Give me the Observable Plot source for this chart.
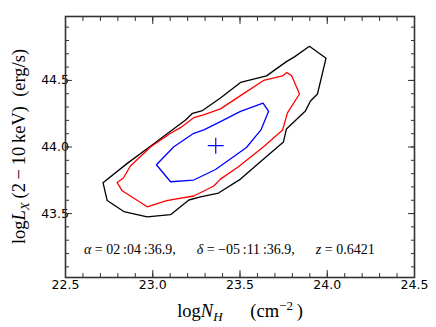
<!DOCTYPE html>
<html><head><meta charset="utf-8">
<script src="https://cdn.jsdelivr.net/npm/d3@7"></script>
<script src="https://cdn.jsdelivr.net/npm/@observablehq/plot@0.6"></script>
<style>body{margin:0;background:#fff;}</style>
</head><body><div id="chart"></div>
<script>
// confidence contours
const blackNH = [22.715,22.854,23.004,23.188,23.228,23.285,23.388,23.503,23.652,23.766,23.812,23.898,23.993,23.944,23.904,23.875,23.766,23.749,23.617,23.503,23.377,23.274,23.207,23.102,22.968,22.834,22.739,22.715];
const blackLX = [43.732,43.877,44.023,44.203,44.253,44.274,44.368,44.485,44.534,44.641,44.677,44.756,44.667,44.398,44.346,44.271,44.135,44.038,43.889,43.759,43.654,43.626,43.602,43.492,43.476,43.515,43.598,43.732];
const redNH = [22.796,22.832,22.872,22.987,23.102,23.159,23.235,23.291,23.388,23.503,23.635,23.744,23.768,23.797,23.841,23.772,23.744,23.635,23.491,23.388,23.350,23.235,23.079,22.968,22.825,22.796];
const redLX = [43.733,43.767,43.857,44.000,44.103,44.145,44.220,44.241,44.286,44.386,44.500,44.534,44.559,44.534,44.398,44.256,44.128,44.002,43.852,43.759,43.707,43.632,43.598,43.551,43.671,43.733];
const blueNH = [23.021,23.121,23.235,23.293,23.388,23.503,23.632,23.664,23.620,23.537,23.360,23.235,23.102,23.021];
const blueLX = [43.867,44.002,44.103,44.128,44.190,44.267,44.329,44.268,44.128,43.996,43.831,43.752,43.739,43.867];
const bestNH = [23.361];
const bestLX = [44.010];

const xMajor = [22.5, 23.0, 23.5, 24.0, 24.5];
const yMajor = [43.5, 44.0, 44.5];
const xMinor = d3.range(22.6, 24.45, 0.1);
const yMinor = d3.range(43.1, 44.95, 0.1);

const rows = (xs, ys) => xs.map((x, i) => ({nh: x, lx: ys[i]}));
const best = rows(bestNH, bestLX);

const plusSymbol = {
  draw(ctx, size) {
    const r = 8;
    ctx.moveTo(-r, 0); ctx.lineTo(r, 0);
    ctx.moveTo(0, -r); ctx.lineTo(0, r);
  }
};

const axisColor = "#333";
const fmt = d => d.toFixed(1);

const chart = Plot.plot({
  width: 436, height: 327,
  marginLeft: 65, marginRight: 22, marginTop: 16, marginBottom: 50,
  x: {domain: [22.5, 24.5], label: null},
  y: {domain: [43.02, 44.98], label: null},
  style: {fontFamily: "DejaVu Sans", fontSize: "12.5px", color: "#000", background: "#fff"},
  marks: [
    Plot.line(rows(blackNH, blackLX), {x: "nh", y: "lx", stroke: "#000", strokeWidth: 1.3}),
    Plot.line(rows(redNH, redLX), {x: "nh", y: "lx", stroke: "#ff0000", strokeWidth: 1.3}),
    Plot.line(rows(blueNH, blueLX), {x: "nh", y: "lx", stroke: "#0000ff", strokeWidth: 1.3}),
    Plot.dot(best, {x: "nh", y: "lx", symbol: plusSymbol, r: 8, stroke: "#0000ff", fill: "none", strokeWidth: 1.2}),
    // ticks inward on all sides
    Plot.axisX(xMajor, {anchor: "bottom", tickSize: -7, tickPadding: 9.5, tickFormat: fmt, stroke: axisColor, fontSize: 12.5, label: null}),
    Plot.axisX(xMinor, {anchor: "bottom", tickSize: -4, tickFormat: () => "", stroke: axisColor, label: null}),
    Plot.axisX(xMajor, {anchor: "top", tickSize: -7, tickFormat: () => "", stroke: axisColor, label: null}),
    Plot.axisX(xMinor, {anchor: "top", tickSize: -4, tickFormat: () => "", stroke: axisColor, label: null}),
    Plot.axisY(yMajor, {anchor: "left", tickSize: -7, tickPadding: 3.5, tickFormat: fmt, stroke: axisColor, fontSize: 12.5, label: null}),
    Plot.axisY(yMinor, {anchor: "left", tickSize: -4, tickFormat: () => "", stroke: axisColor, label: null}),
    Plot.axisY(yMajor, {anchor: "right", tickSize: -7, tickFormat: () => "", stroke: axisColor, label: null}),
    Plot.axisY(yMinor, {anchor: "right", tickSize: -4, tickFormat: () => "", stroke: axisColor, label: null}),
    Plot.frame({stroke: axisColor, strokeWidth: 1.6})
  ]
});

document.getElementById("chart").appendChild(chart);

const svg = d3.select(chart);
const serif = "'Liberation Serif', 'DejaVu Serif', serif";

function centerText(sel, cx) {
  const w = sel.node().getComputedTextLength();
  sel.attr("x", cx - w / 2);
}

// annotation
const ann = svg.append("text")
  .attr("x", 84).attr("y", 254).attr("text-anchor", "start")
  .attr("font-family", serif).attr("font-size", 14).attr("fill", "#000");
const parts = [
  ["α", true], ["\u2005=\u200502\u2009:04\u2009:36.9,\u2003\u2002", false],
  ["δ", true], ["\u2005=\u2005−05\u2009:11\u2009:36.9,\u2003\u2002", false],
  ["z", true], ["\u2005=\u20050.6421", false]
];
parts.forEach(([t, it]) => ann.append("tspan").attr("font-style", it ? "italic" : "normal").text(t));

// x label
const xl = svg.append("text")
  .attr("y", 317).attr("text-anchor", "start")
  .attr("font-family", serif).attr("font-size", 18.5).attr("fill", "#000");
xl.append("tspan").text("log");
xl.append("tspan").attr("font-style", "italic").text("N");
xl.append("tspan").attr("font-style", "italic").attr("font-size", 13).attr("dy", 4).text("H");
xl.append("tspan").attr("dy", -4).text("\u2003\u2002(cm");
xl.append("tspan").attr("font-size", 13).attr("dy", -7.5).text("−2");
xl.append("tspan").attr("dy", 7.5).text("\u2009)");
centerText(xl, 240);

// y label
const yl = svg.append("text")
  .attr("transform", "translate(25,0) rotate(-90)").attr("text-anchor", "start")
  .attr("y", 0)
  .attr("font-family", serif).attr("font-size", 18.5).attr("fill", "#000");
yl.append("tspan").text("log");
yl.append("tspan").attr("font-style", "italic").text("L");
yl.append("tspan").attr("font-style", "italic").attr("font-size", 13).attr("dy", 4).text("X");
yl.append("tspan").attr("dy", -4).text("\u2009(2\u2009−\u200910\u2009keV)\u2002(erg/s)");
centerText(yl, -146.5);
</script>
</body></html>
